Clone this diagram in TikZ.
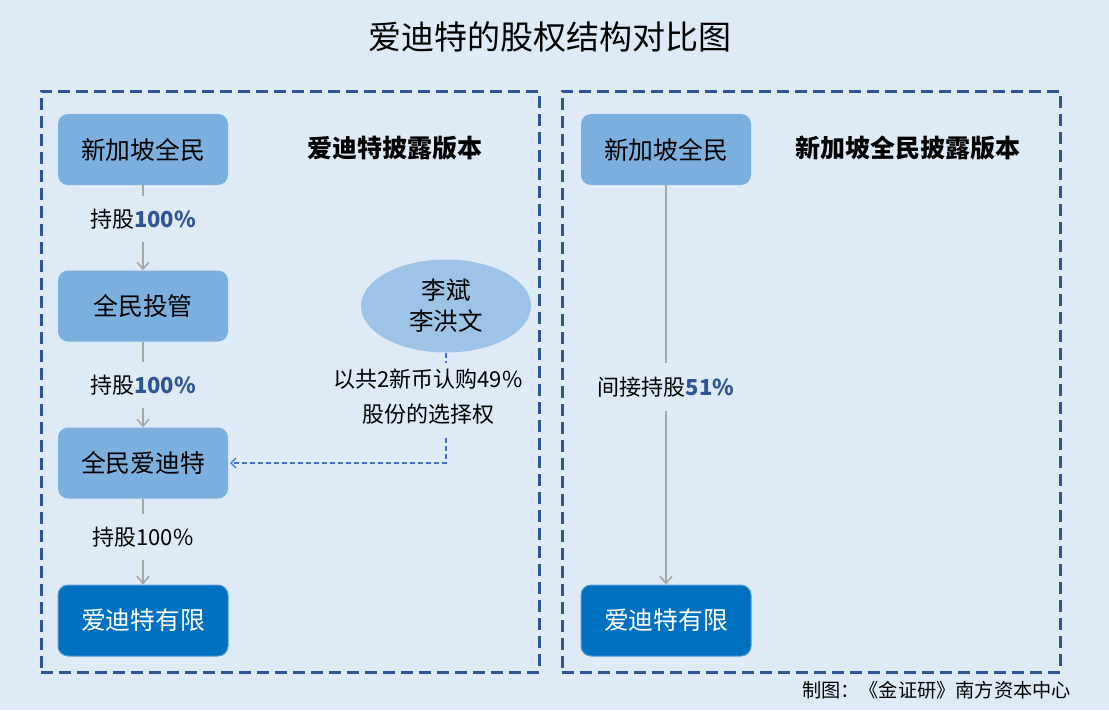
\documentclass[tikz,border=0pt]{standalone}
\usepackage{fontspec}
\setmainfont{Noto Sans CJK SC}
\usetikzlibrary{arrows.meta,shapes.geometric}
\definecolor{bg}{HTML}{DEEBF7}
\definecolor{framecol}{HTML}{2F5597}
\definecolor{boxlight}{HTML}{7BAFDE}
\definecolor{boxdark}{HTML}{0070C0}
\definecolor{ellfill}{HTML}{9DC3E6}
\definecolor{numblue}{HTML}{2F5597}
\definecolor{arrgray}{HTML}{A6A6A6}
\definecolor{dashblue}{HTML}{4472C4}
\tikzset{
  frame/.style={draw=framecol, line width=3pt, dash pattern=on 12pt off 6pt, minimum width=498pt, minimum height=581pt, inner sep=0},
  lbox/.style={rounded corners=10pt, minimum width=170pt, minimum height=71pt, inner sep=0, fill=boxlight, font=\fontsize{24.8}{28}\selectfont},
  dbox/.style={lbox, fill=boxdark, draw=boxlight!70!boxdark, line width=1pt, text=white},
  hdr/.style={font=\fontsize{25}{29}\selectfont\bfseries},
  lab/.style={inner sep=0, minimum height=46pt, font=\fontsize{22}{26}\selectfont},
  gline/.style={draw=arrgray, line width=1.8pt},
  garr/.style={gline, -{Straight Barb[length=7pt,width=12pt,line width=1.6pt]}},
  dline/.style={draw=dashblue, line width=1.2pt, dash pattern=on 5pt off 3pt}
}
\newcommand{\nb}[1]{{\bfseries\color{numblue}#1}}
\begin{document}
\begin{tikzpicture}[x=1pt,y=-1pt]
\fill[bg] (0,0) rectangle (1109,710);
\useasboundingbox (0,0) rectangle (1109,710);

\node[font=\fontsize{33}{38}\selectfont] (title) at (550,37) {爱迪特的股权结构对比图};

\node[frame] (lf) at (290,381.5) {};
\node[frame] (rf) at (811,381.5) {};

% left column
\node[lbox] (a1) at (143,149.5) {新加坡全民};
\node[lbox] (a2) at (143,306) {全民投管};
\node[lbox] (a3) at (143,463) {全民爱迪特};
\node[dbox] (a4) at (143,620.5) {爱迪特有限};
\node[hdr] (h1) at (395,148) {爱迪特披露版本};

\node[lab] (l1) at (143,219) {持股\nb{100\%}};
\node[lab] (l2) at (143,385) {持股\nb{100\%}};
\node[lab] (l3) at (143,537) {持股100\%};

\draw[gline] (a1.south) -- (l1.north);
\draw[garr] (l1.south) -- (a2.north);
\draw[gline] (a2.south) -- (l2.north);
\draw[garr] (l2.south) -- (a3.north);
\draw[gline] (a3.south) -- (l3.north);
\draw[garr] (l3.south) -- (a4.north);

% ellipse and option
\node[ellipse, fill=ellfill, minimum width=170pt, minimum height=93pt, inner sep=0, align=center, font=\fontsize{24.5}{31}\selectfont] (e) at (446,306) {李斌\\李洪文};
\node[inner sep=0, align=center, font=\fontsize{22}{35}\selectfont] (opt) at (428,397) {以共2新币认购49\%\\股份的选择权};
\coordinate (d1) at (446,363);
\coordinate (d2) at (446,438);
\draw[dline] (e.south) -- (d1);
\draw[dline, -{Straight Barb[length=5pt,width=10pt,line width=1.2pt]}] (d2) |- ([xshift=2pt]a3.east);

% right column
\node[lbox] (b1) at (666,149.5) {新加坡全民};
\node[dbox] (b2) at (666,620.5) {爱迪特有限};
\node[hdr] (h2) at (908,148) {新加坡全民披露版本};
\node[lab, minimum height=47pt] (m1) at (666,387) {间接持股\nb{51\%}};
\draw[gline] (b1.south) -- (m1.north);
\draw[garr] (m1.south) -- (b2.north);

\node[anchor=east, font=\fontsize{19.2}{23}\selectfont, inner sep=0] (credit) at (1071,690) {制图：《金证研》南方资本中心};
\end{tikzpicture}
\end{document}
